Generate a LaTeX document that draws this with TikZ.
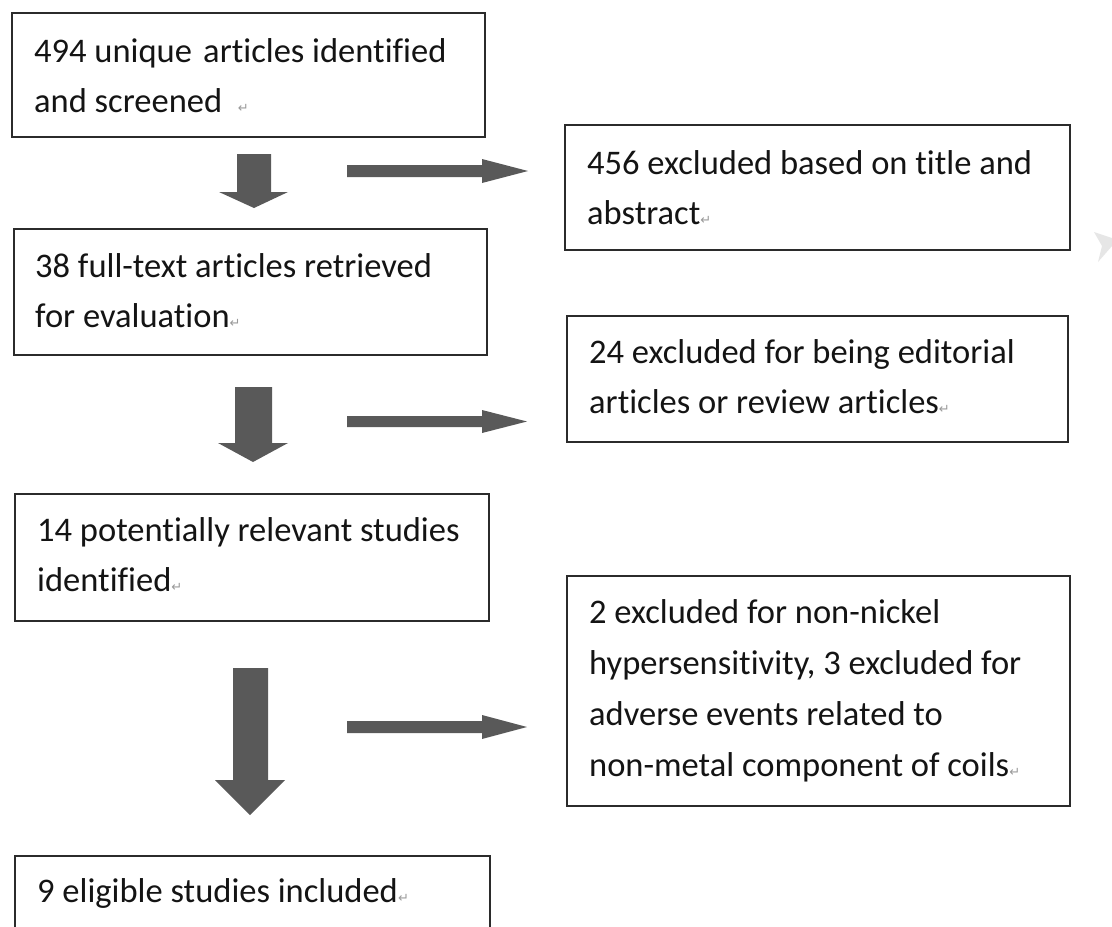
\documentclass[tikz,border=0pt]{standalone}
\usepackage{fontspec}
\setmainfont{Carlito}[RawFeature={-liga;-clig;-calt;-dlig;-rlig}]
\newfontfamily\symfont{DejaVu Sans}
\usetikzlibrary{calc}
\definecolor{boxc}{HTML}{2B2B2B}
\definecolor{txtc}{HTML}{141414}
\definecolor{arrc}{HTML}{595959}
\definecolor{pmc}{HTML}{9A9A9A}
\definecolor{chevc}{HTML}{E6E6E6}
\newcommand\parmk{{\symfont\fontsize{13}{13}\selectfont\textcolor{pmc}{↵}}}
\newcommand\boxtext[1]{\begin{minipage}[t]{480pt}\raggedright #1\end{minipage}}
\begin{document}
\begin{tikzpicture}[x=1pt,y=-1pt,
  box/.style={draw=boxc, line width=1.5pt, fill=white, inner sep=0pt, anchor=north west},
  txt/.style={anchor=base west, inner sep=0pt, text=txtc, font=\fontsize{34.5}{50}\selectfont},
  blk/.style={fill=arrc, draw=none}]
\clip (0,0) rectangle (1112,927);
\fill[white] (0,0) rectangle (1112,927);

% left column boxes
\node[box, minimum width=473pt, minimum height=124pt] (b1) at (11,12) {};
\node[box, minimum width=473pt, minimum height=126pt] (b2) at (13,228) {};
\node[box, minimum width=474pt, minimum height=127pt] (b3) at (14,493) {};
\node[box, minimum width=475pt, minimum height=120pt] (b5) at (14,855) {};
% right column boxes
\node[box, minimum width=505pt, minimum height=125pt] (r1) at (564,124) {};
\node[box, minimum width=501pt, minimum height=126pt] (r2) at (566,315) {};
\node[box, minimum width=503pt, minimum height=230pt] (r4) at (566,575) {};

% texts
\node[txt] (t1) at ($(b1.north west)+(23,50)$) {\boxtext{494 unique \hspace{0.1em}articles identified\\and screened\ \ \parmk}};
\node[txt] (t2) at ($(b2.north west)+(22,49)$) {\boxtext{38 full-text articles retrieved\\for evaluation\parmk}};
\node[txt] (t3) at ($(b3.north west)+(23,48)$) {\boxtext{14 potentially relevant studies\\identified\parmk}};
\node[txt] (t5) at ($(b5.north west)+(23,47)$) {\boxtext{9 eligible studies included\parmk}};
\node[txt] (tr1) at ($(r1.north west)+(23,50)$) {\boxtext{456 excluded based on title and\\abstract\parmk}};
\node[txt] (tr2) at ($(r2.north west)+(23,48)$) {\boxtext{24 excluded for being editorial\\articles or review articles\parmk}};
\node[txt, font=\fontsize{34.5}{51}\selectfont] (tr4) at ($(r4.north west)+(23,48)$) {\boxtext{2 excluded for non-nickel\\hypersensitivity, 3 excluded for\\adverse events related to\\non-metal component of coils\parmk}};

% block arrows down
\fill[blk] (237,154) -- (271,154) -- (271,192) -- (288,192) -- (254,208) -- (219,192) -- (237,192) -- cycle;
\fill[blk] (235,387) -- (272,387) -- (272,443) -- (288,443) -- (253,462) -- (218,443) -- (235,443) -- cycle;
\fill[blk] (233,668) -- (268,668) -- (268,780) -- (285,780) -- (250,815) -- (215,780) -- (233,780) -- cycle;
% block arrows right
\fill[blk] (347,165) -- (482,165) -- (482,159) -- (528,171) -- (482,183) -- (482,177) -- (347,177) -- cycle;
\fill[blk] (347,416) -- (482,416) -- (482,410) -- (527,421.5) -- (482,433) -- (482,427) -- (347,427) -- cycle;
\fill[blk] (347,721) -- (482,721) -- (482,715) -- (527,727) -- (482,739) -- (482,733) -- (347,733) -- cycle;

% faint chevron at right edge
\fill[chevc] (1094,232) -- (1112,238) -- (1112,246) -- (1098,262) -- (1102,246) -- cycle;
\end{tikzpicture}
\end{document}
